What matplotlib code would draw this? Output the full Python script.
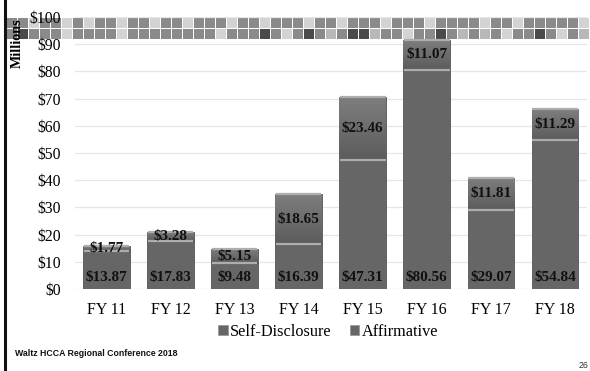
import numpy as np
import matplotlib
matplotlib.use("Agg")
import matplotlib.pyplot as plt
from matplotlib.patches import Rectangle
from matplotlib.lines import Line2D
from matplotlib.colors import LinearSegmentedColormap

# ---- data ----
categories = ["FY 11", "FY 12", "FY 13", "FY 14", "FY 15", "FY 16", "FY 17", "FY 18"]
self_disclosure = [13.87, 17.83, 9.48, 16.39, 47.31, 80.56, 29.07, 54.84]
affirmative = [1.77, 3.28, 5.15, 18.65, 23.46, 11.07, 11.81, 11.29]
y_ticks = [0, 10, 20, 30, 40, 50, 60, 70, 80, 90, 100]
y_tick_labels = ["$" + str(v) for v in y_ticks]
series_names = ["Self-Disclosure", "Affirmative"]
footer_text = "Waltz HCCA Regional Conference 2018"
page_number = "26"

# decorative band pattern (L light, l light-mid, M mid, D dark)
band_row1 = "MMLMMLMLMMLMM" + "LMMLMMMLMMLMM" + "MLMMLMMMLMMMLMMMMLMMLMMMMML"
band_row2 = "MDMMMLMMMMLMMM" + "MMMMMLMMMDML" + "MDMlMDDlMMLMMDMlMlMLMMDMLMl"

SERIF = "Liberation Serif"
W, H = 590, 371
fig = plt.figure(figsize=(W / 100, H / 100), dpi=100)
fig.patch.set_facecolor("white")

def fx(px):
    return px / W

def fy(py):
    return 1 - py / H

# decorative band of squares
band_colors = {"L": "#d3d3d3", "l": "#b8b8b8", "M": "#8a8a8a", "D": "#4a4a4a"}
for row, (ytop, hgt) in zip([band_row1, band_row2], [(18, 9.5), (29, 10)]):
    for i, ch in enumerate(row):
        x0 = 7 + 11 * i
        if x0 > W:
            break
        fig.add_artist(Rectangle((fx(x0), fy(ytop + hgt)), fx(9.8), hgt / H,
                                 transform=fig.transFigure, facecolor=band_colors[ch],
                                 edgecolor="none", zorder=0))

# left vertical rule
fig.add_artist(Line2D([fx(5), fx(5)], [0, 1], transform=fig.transFigure,
                      color="#111111", lw=2.2, zorder=5))

# axes
ax_left, ax_right = 74.5, 587
ax_bottom_px, ax_top_px = 289, 17
ax = fig.add_axes([fx(ax_left), fy(ax_bottom_px), fx(ax_right - ax_left),
                   (ax_bottom_px - ax_top_px) / H])
ax.patch.set_alpha(0)
for s in ax.spines.values():
    s.set_visible(False)

x = np.arange(len(categories))
width = 0.73
base_color = "#666666"

b1 = ax.bar(x, self_disclosure, width, color=base_color, edgecolor="#555555",
            linewidth=0.6, zorder=3)
b2 = ax.bar(x, affirmative, width, bottom=self_disclosure, color="#6a6a6a",
            edgecolor="#555555", linewidth=0.6, zorder=3)

ax.set_xlim(-0.5, len(categories) - 0.5)
ax.set_ylim(0, 100)

# gradient on top segments
grad_cmap = LinearSegmentedColormap.from_list("g", ["#5c5c5c", "#7e7e7e"])
grad = np.linspace(0, 1, 64).reshape(-1, 1)
for p in b2.patches:
    x0, y0 = p.get_x(), p.get_y()
    im = ax.imshow(grad, extent=[x0, x0 + p.get_width(), y0, y0 + p.get_height()],
                   origin="lower", aspect="auto", cmap=grad_cmap, zorder=3.5)
    im.set_clip_path(p)

# light bevel line at top of each segment
for bars in (b1, b2):
    for p in bars.patches:
        ax.plot([p.get_x() + 0.01, p.get_x() + p.get_width() - 0.01],
                [p.get_y() + p.get_height()] * 2, color="#adadad", lw=1.6,
                zorder=4, solid_capstyle="butt")

# grid
ax.set_yticks(y_ticks)
ax.set_yticklabels(y_tick_labels, fontfamily=SERIF, fontsize=11.3)
ax.yaxis.grid(True, color="#e6e6e6", lw=0.9, zorder=0)
ax.set_axisbelow(True)
ax.tick_params(axis="y", length=0, pad=10)
ax.set_xticks(x)
ax.set_xticklabels(categories, fontfamily=SERIF, fontsize=11.5)
ax.tick_params(axis="x", length=0, pad=9)

# value labels
for xi, sd, af in zip(x, self_disclosure, affirmative):
    ax.annotate(f"${sd:.2f}", (xi, 0), xytext=(0, 8), textcoords="offset points",
                ha="center", va="center", fontfamily=SERIF, fontweight="bold",
                fontsize=11, color="#111111", zorder=6)
    ax.text(xi, sd + af / 2, f"${af:.2f}", ha="center", va="center",
            fontfamily=SERIF, fontweight="bold", fontsize=11, color="#111111",
            zorder=6)

# Millions label
fig.text(fx(17), fy(43), "Millions", rotation=90, ha="center", va="center",
         fontfamily=SERIF, fontweight="bold", fontsize=10.2, zorder=6)

# legend
handles = [Rectangle((0, 0), 1, 1, facecolor="#666666", edgecolor="#999999", lw=0.6)
           for _ in series_names]
leg = fig.legend(handles, series_names, loc="center", bbox_to_anchor=(fx(328), fy(332)),
                 ncol=2, frameon=False, prop={"family": SERIF, "size": 11.7},
                 handlelength=0.6, handleheight=0.6, handletextpad=0.15,
                 columnspacing=1.1, borderpad=0)

# footer
fig.text(fx(15), fy(354), footer_text, ha="left", va="center",
         fontfamily="Liberation Sans", fontweight="bold", fontsize=6.3, color="#111111")
fig.text(fx(588), fy(366), page_number, ha="right", va="center",
         fontfamily="Liberation Sans", fontsize=6.3, color="#333333")

fig.savefig("out.png", dpi=100)
